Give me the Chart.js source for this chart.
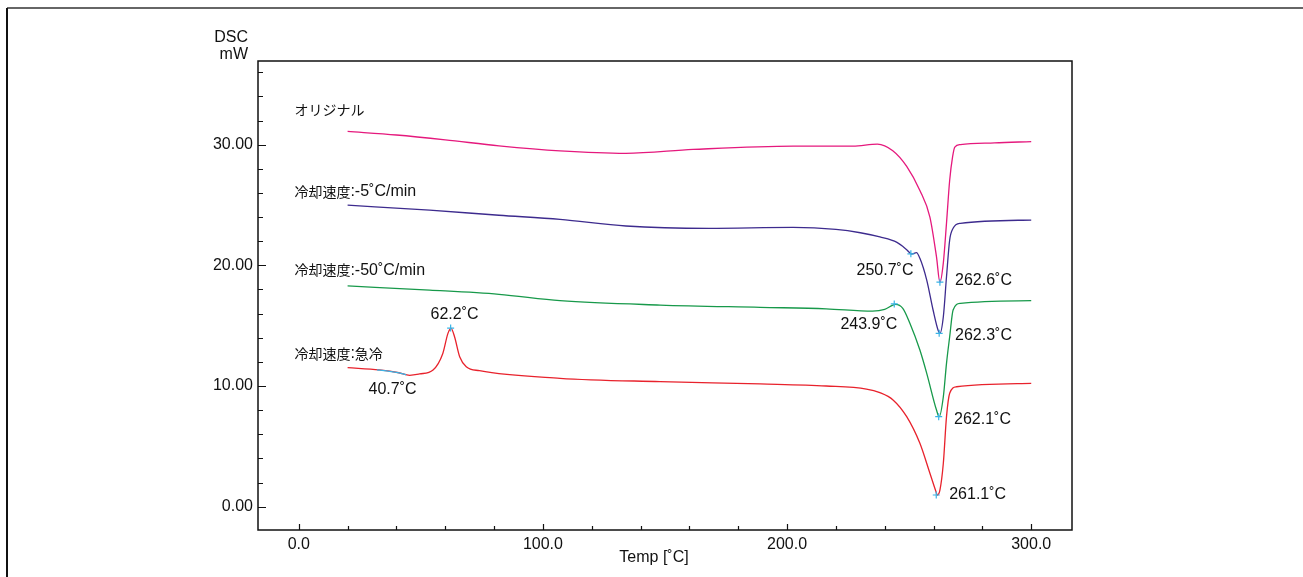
<!DOCTYPE html>
<html>
<head>
<meta charset="utf-8">
<script src="https://cdn.jsdelivr.net/npm/chart.js@4.4.0/dist/chart.umd.min.js"></script>
<style>
  body { margin: 0; background: #fff; }
</style>
</head>
<body>
<canvas id="dsc" width="1303" height="577"></canvas>
<script>
// curves (temperature in C, heat flow in mW)
const tempOriginal = [20, 40, 60, 82, 107, 134, 161.5, 202.5, 227, 237, 243.3, 249, 254.4, 258.5, 261.2, 262.6, 264, 265.3, 266.6, 267.8, 268.7, 271, 285, 300]
const dscOriginal = [31.1, 30.8, 30.4, 29.9, 29.48, 29.28, 29.6, 29.88, 29.88, 30.05, 29.5, 28.2, 26.2, 24.0, 20.7, 18.6, 20.2, 23.5, 27.05, 29.0, 29.8, 30.0, 30.15, 30.25]

const temp5 = [20, 53.6, 82, 107, 134, 168, 202.5, 220, 230, 238, 245, 249, 251, 253, 254.4, 257.2, 259.8, 261.9, 262.6, 264, 265.3, 266.6, 268, 271, 300]
const dsc5 = [24.98, 24.57, 24.15, 23.81, 23.26, 23.07, 23.15, 22.98, 22.7, 22.35, 21.9, 21.3, 20.94, 21.05, 20.58, 18.78, 16.3, 14.6, 14.37, 15.74, 19.05, 22.1, 23.07, 23.48, 23.75]

const temp50 = [20, 53.6, 82, 107, 148, 189, 216, 235, 240, 244.4, 247.4, 250.3, 254.4, 257.2, 261.2, 262.3, 264, 265.3, 266.6, 268, 271, 300]
const dsc50 = [18.29, 17.95, 17.6, 17.07, 16.71, 16.52, 16.4, 16.21, 16.35, 16.77, 16.44, 15.2, 12.98, 11.05, 8.01, 7.46, 9.11, 11.88, 14.08, 16.3, 16.85, 17.07]

const tempQuench = [20, 33, 41, 45.4, 49.5, 55, 59, 61.1, 62.4, 63.8, 65.9, 68.6, 74, 107, 148, 189, 216, 232.5, 238, 243.4, 249, 254.4, 258.5, 261, 261.5, 262.6, 264, 265.3, 266.6, 269.4, 300]
const dscQuench = [11.52, 11.33, 11.1, 10.89, 11.0, 11.33, 12.7, 14.36, 14.78, 14.08, 12.43, 11.6, 11.27, 10.64, 10.36, 10.17, 10.0, 9.75, 9.45, 8.85, 7.46, 5.25, 2.77, 1.24, 0.97, 1.38, 3.6, 7.46, 9.4, 9.94, 10.22]

// analysis marks (peak temperatures and their heat flow)
const markTemp = [62.2, 250.7, 262.6, 243.9, 262.3, 262.1, 261.1]
const markDsc = [14.8, 20.95, 18.6, 16.8, 14.37, 7.46, 0.97]

// small highlighted part of the quench curve
const segTemp = [32, 36, 40, 44]
const segDsc = [11.34, 11.25, 11.13, 10.93]

const xTicks = [0, 100, 200, 300]
const yTicks = [0, 10, 20, 30]

function pts(xs, ys) {
  return xs.map((x, i) => ({x: x, y: ys[i]}))
}

// text labels placed in data coordinates
const notes = [
  {text: 'オリジナル', x: -1.8, y: 32.87, align: 'left'},
  {text: '冷却速度:-5˚C/min', x: -1.8, y: 26.14, align: 'left'},
  {text: '冷却速度:-50˚C/min', x: -1.8, y: 19.6, align: 'left'},
  {text: '冷却速度:急冷', x: -1.8, y: 12.72, align: 'left'},
  {text: '62.2˚C', x: 63.8, y: 15.9, align: 'center'},
  {text: '40.7˚C', x: 38.4, y: 9.67, align: 'center'},
  {text: '250.7˚C', x: 240.1, y: 19.6, align: 'center'},
  {text: '262.6˚C', x: 268.8, y: 18.72, align: 'left'},
  {text: '243.9˚C', x: 233.5, y: 15.05, align: 'center'},
  {text: '262.3˚C', x: 268.8, y: 14.14, align: 'left'},
  {text: '262.1˚C', x: 268.4, y: 7.18, align: 'left'},
  {text: '261.1˚C', x: 266.4, y: 0.97, align: 'left'}
]

const latinFont = '16px "Liberation Sans"'
const cjkFont = '14px "Noto Sans CJK JP"'

// draws text run by run: CJK glyphs in the JP font, the rest in Liberation
function drawMixed(ctx, text, x, y, align) {
  const runs = []
  for (const ch of text) {
    const cjk = /[\u3000-\u9fff\uff00-\uffef]/.test(ch)
    if (runs.length && runs[runs.length - 1].cjk === cjk) runs[runs.length - 1].s += ch
    else runs.push({s: ch, cjk: cjk})
  }
  let total = 0
  runs.forEach(r => {
    ctx.font = r.cjk ? cjkFont : latinFont
    r.w = ctx.measureText(r.s).width
    total += r.w
  })
  let cx = align === 'center' ? x - total / 2 : x
  ctx.textAlign = 'left'
  runs.forEach(r => {
    ctx.font = r.cjk ? cjkFont : latinFont
    ctx.fillText(r.s, cx, y)
    cx += r.w
  })
}

const decor = {
  id: 'decor',
  afterDraw(chart) {
    const ctx = chart.ctx
    const a = chart.chartArea
    const sx = chart.scales.x
    const sy = chart.scales.y
    ctx.save()

    // outer frame (top and left only)
    ctx.strokeStyle = '#666'
    ctx.lineWidth = 2
    ctx.beginPath()
    ctx.moveTo(7, 8); ctx.lineTo(1303, 8)
    ctx.stroke()
    ctx.strokeStyle = '#111'
    ctx.beginPath()
    ctx.moveTo(7, 8); ctx.lineTo(7, 577)
    ctx.stroke()

    // plot box
    ctx.strokeStyle = '#111'
    ctx.lineWidth = 1.5
    ctx.strokeRect(a.left, a.top, a.right - a.left, a.bottom - a.top)

    // inward ticks
    ctx.lineWidth = 1.2
    ctx.beginPath()
    for (let v = -20; v <= 320; v += 20) {
      if (v < sx.min || v > sx.max) continue
      const px = Math.round(sx.getPixelForValue(v)) + 0.5
      const len = v % 100 === 0 ? 6 : 4
      ctx.moveTo(px, a.bottom); ctx.lineTo(px, a.bottom - len)
    }
    for (let v = 0; v <= 36; v += 2) {
      const py = Math.round(sy.getPixelForValue(v)) + 0.5
      const len = v % 10 === 0 ? 8 : 5
      ctx.moveTo(a.left, py); ctx.lineTo(a.left + len, py)
    }
    ctx.stroke()

    // notes
    ctx.fillStyle = '#111'
    ctx.textBaseline = 'middle'
    notes.forEach(n => {
      drawMixed(ctx, n.text, sx.getPixelForValue(n.x), sy.getPixelForValue(n.y), n.align)
    })

    // axis captions
    ctx.font = latinFont
    ctx.textAlign = 'right'
    ctx.fillText('DSC', 248, 38)
    ctx.fillText('mW', 248, 55)
    ctx.textAlign = 'center'
    ctx.fillText('Temp [˚C]', 654, 558)
    ctx.restore()
  }
}

function curve(label, xs, ys, color) {
  return {
    label: label,
    data: pts(xs, ys),
    showLine: true,
    borderColor: color,
    borderWidth: 1.3,
    pointRadius: 0,
    cubicInterpolationMode: 'monotone',
    fill: false
  }
}

var seg = curve('seg', segTemp, segDsc, '#39b4e6')
seg.order = -1

var dscChart = new Chart(document.getElementById('dsc').getContext('2d'), {
  type: 'scatter',
  data: {
    datasets: [
      curve('オリジナル', tempOriginal, dscOriginal, '#e5197d'),
      curve('冷却速度:-5˚C/min', temp5, dsc5, '#3d2b8e'),
      curve('冷却速度:-50˚C/min', temp50, dsc50, '#17994a'),
      curve('冷却速度:急冷', tempQuench, dscQuench, '#e8222c'),
      seg,
      {
        label: 'marks',
        data: pts(markTemp, markDsc),
        order: -2,
        pointStyle: 'cross',
        pointRadius: 3.5,
        pointBorderColor: '#39b4e6',
        pointBorderWidth: 1.2,
        showLine: false
      }
    ]
  },
  plugins: [decor],
  options: {
    responsive: false,
    animation: false,
    layout: {
      padding: {top: 61, right: 231, left: 0, bottom: 0}
    },
    plugins: {
      legend: {display: false},
      tooltip: {enabled: false}
    },
    scales: {
      x: {
        type: 'linear',
        min: -16.7,
        max: 316.7,
        afterFit: s => { s.height = 47 },
        afterBuildTicks: s => { s.ticks = xTicks.map(v => ({value: v})) },
        grid: {display: false, drawTicks: false},
        border: {display: false},
        ticks: {
          color: '#111',
          padding: 5,
          font: {family: 'Liberation Sans', size: 16},
          callback: v => v.toFixed(1)
        }
      },
      y: {
        type: 'linear',
        min: -1.93,
        max: 36.93,
        afterFit: s => { s.width = 258 },
        afterBuildTicks: s => { s.ticks = yTicks.map(v => ({value: v})) },
        grid: {display: false, drawTicks: false},
        border: {display: false},
        ticks: {
          color: '#111',
          padding: 5,
          font: {family: 'Liberation Sans', size: 16},
          callback: v => v.toFixed(2)
        }
      }
    }
  }
});
</script>
</body>
</html>
